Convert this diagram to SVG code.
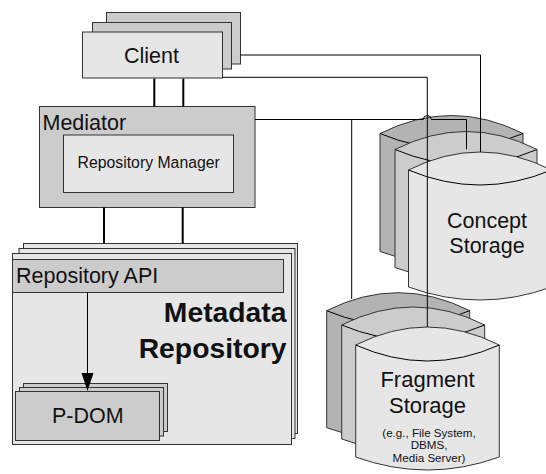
<svg xmlns="http://www.w3.org/2000/svg" width="546" height="474" viewBox="0 0 546 474">
<style>
.box{stroke:#333;stroke-width:1}
.lt{fill:#e6e6e6}
.md{fill:#cccccc}
.dk{fill:#b3b3b3}
.t{font-family:"Liberation Sans",Arial,sans-serif;fill:#111}
.c{stroke:#000;stroke-width:1;fill:none}
.c2{stroke:#000;stroke-width:2;fill:none}
</style>
<rect width="546" height="474" fill="#fff"/>

<g id="fragment-storage">
<path class="box dk" d="M326.7,310.7 Q398.2,274.7 469.7,310.7 V427.7 Q398.2,453.7 326.7,427.7 Z"/>
<path class="c" stroke="#333" d="M326.7,310.7 Q398.2,340.7 469.7,310.7"/>
<path class="box md" d="M341.7,325 Q413.2,289 484.7,325 V439 Q413.2,465 341.7,439 Z"/>
<path class="c" stroke="#333" d="M341.7,325 Q413.2,355 484.7,325"/>
<path class="box lt" d="M355.7,345 Q427.5,309 499.3,345 V457 Q427.5,483 355.7,457 Z"/>
<path class="c" stroke="#333" d="M355.7,345 Q427.5,377 499.3,345"/>
<text class="t" x="427.5" y="386.7" font-size="22" text-anchor="middle">Fragment</text>
<text class="t" x="427.5" y="413.3" font-size="22" text-anchor="middle">Storage</text>
<text class="t" x="429" y="436.7" font-size="11.6" text-anchor="middle">(e.g., File System,</text>
<text class="t" x="429" y="449" font-size="11.6" text-anchor="middle">DBMS,</text>
<text class="t" x="429" y="461.7" font-size="11.6" text-anchor="middle">Media Server)</text>
</g>

<g id="concept-storage">
<path class="box dk" d="M380,133.5 Q451.5,97.5 523,133.5 V251.5 Q451.5,277.5 380,251.5 Z"/>
<path class="c" stroke="#333" d="M380,133.5 Q451.5,163.5 523,133.5"/>
<path class="box md" d="M395,149.5 Q466,113.5 537,149.5 V267.5 Q466,293.5 395,267.5 Z"/>
<path class="c" stroke="#333" d="M395,149.5 Q466,179.5 537,149.5"/>
<path class="box lt" d="M408.5,170 Q480,134 551.5,170 V287 Q480,313 408.5,287 Z"/>
<path class="c" stroke="#333" d="M408.5,170 Q480,200 551.5,170"/>
<text class="t" x="487" y="228.3" font-size="21.5" text-anchor="middle">Concept</text>
<text class="t" x="487" y="253.3" font-size="21.5" text-anchor="middle">Storage</text>
</g>

<g id="client">
<rect class="box md" x="106.5" y="12.5" width="134" height="51.5"/>
<rect class="box md" x="92.5" y="22.5" width="139" height="46.5"/>
<rect class="box lt" x="82.5" y="32" width="140" height="46"/>
<text class="t" x="151.5" y="63.3" font-size="21.5" text-anchor="middle">Client</text>
</g>

<g id="mediator">
<rect class="box md" x="39.5" y="106.5" width="215.5" height="101"/>
<text class="t" x="42.5" y="130" font-size="21.5">Mediator</text>
<g id="repository-manager">
<rect class="box lt" x="63.5" y="135" width="170" height="57.5"/>
<text class="t" x="148.7" y="168.3" font-size="15.8" text-anchor="middle">Repository Manager</text>
</g>
</g>

<g id="metadata-repository">
<rect class="box lt" x="23.5" y="243.5" width="274" height="190"/>
<rect class="box lt" x="19" y="248.5" width="276" height="190"/>
<rect class="box lt" x="12.5" y="253.5" width="279" height="191"/>
<text class="t" x="286.5" y="322.3" font-size="28.3" font-weight="bold" text-anchor="end">Metadata</text>
<text class="t" x="286.5" y="358.3" font-size="28.3" font-weight="bold" text-anchor="end">Repository</text>
</g>

<g id="repository-api">
<rect class="box md" x="12.5" y="259.5" width="271" height="33"/>
<text class="t" x="16" y="283.3" font-size="21.5">Repository API</text>
</g>

<g id="p-dom">
<rect class="box md" x="23.5" y="383.5" width="144" height="48"/>
<rect class="box md" x="19.5" y="387.5" width="144" height="48.5"/>
<rect class="box md" x="15.5" y="391.5" width="144" height="49"/>
<text class="t" x="87.8" y="423.3" font-size="21.5" text-anchor="middle">P-DOM</text>
</g>

<g id="connectors">
<line class="c2" x1="154.3" y1="78.5" x2="154.3" y2="106.5"/>
<line class="c2" x1="183.3" y1="78.5" x2="183.3" y2="106.5"/>
<line class="c2" x1="104" y1="207.5" x2="104" y2="243.5"/>
<line class="c2" x1="182.7" y1="207.5" x2="182.7" y2="243.5"/>
<path class="c" d="M240.5,55 H480.5 V152"/>
<path class="c" d="M222.7,77.3 H427.3 V327"/>
<path class="c" d="M255,119.5 H423.3 A4,4 0 0 1 431.3,119.5 H466.5 V149.3"/>
<path class="c" d="M351.7,119.5 V299"/>
<line class="c" stroke-width="1.3" x1="87.5" y1="292.5" x2="87.5" y2="374"/>
<polygon points="81.5,373 93.5,373 87.5,391" fill="#000"/>
</g>
</svg>
